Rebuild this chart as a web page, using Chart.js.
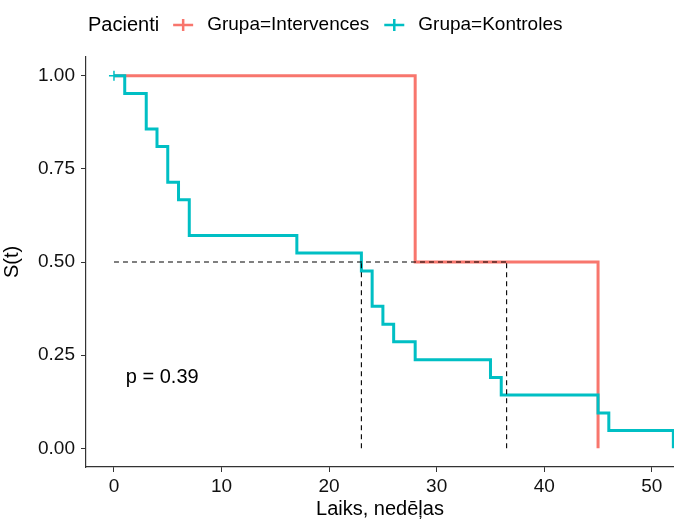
<!DOCTYPE html>
<html>
<head>
<meta charset="utf-8">
<script src="https://cdn.jsdelivr.net/npm/chart.js@4.4.1/dist/chart.umd.min.js"></script>
<style>
  html, body { margin: 0; padding: 0; background: #fff; }
  #wrap { width: 674px; height: 521px; position: relative; }
</style>
</head>
<body>
<div id="wrap"><canvas id="c" width="674" height="521"></canvas></div>
<script>
// ---- data ----
const legendTitle = "Pacienti";
const groupNames = ["Grupa=Intervences", "Grupa=Kontroles"];
const groupColors = ["#F8766D", "#00BFC4"];

const intervencesTime = [0, 28, 45];
const intervencesSurv = [1.0, 0.5, 0.0];

const kontrolesTime = [0, 1, 3, 4, 5, 6, 7, 17, 23, 24, 25, 26, 28, 35, 36, 45, 46, 52];
const kontrolesSurv = [1.0, 0.952, 0.857, 0.810, 0.714, 0.667, 0.571, 0.524, 0.476, 0.381, 0.333, 0.286, 0.238, 0.190, 0.143, 0.095, 0.048, 0.0];

const censorTime = [0];
const censorSurv = [1.0];

const medianSurv = 0.5;
const medianTimes = [23, 36.5];

const xTicks = [0, 10, 20, 30, 40, 50];
const yTicks = [0.00, 0.25, 0.50, 0.75, 1.00];

const pValueText = "p = 0.39";
const xTitle = "Laiks, nedēļas";
const yTitle = "S(t)";

// ---- build datasets ----
const toPts = (t, s) => t.map((v, i) => ({ x: v, y: s[i] }));
const maxMedian = Math.max(...medianTimes);

const datasets = [
  {
    label: "medianH",
    data: [{ x: 0, y: medianSurv }, { x: maxMedian, y: medianSurv }],
    borderColor: "#000", borderWidth: 1.1, borderDash: [5, 4],
    pointRadius: 0, fill: false, order: 0
  },
  ...medianTimes.map(m => ({
    label: "medianV",
    data: [{ x: m, y: 0 }, { x: m, y: medianSurv }],
    borderColor: "#000", borderWidth: 1.1, borderDash: [5, 4],
    pointRadius: 0, fill: false, order: 0
  })),
  {
    label: "censor",
    data: toPts(censorTime, censorSurv),
    showLine: false, pointStyle: "cross", pointRadius: 5,
    pointBorderColor: groupColors[1], pointBorderWidth: 1.5, order: 1
  },
  {
    label: groupNames[1],
    data: toPts(kontrolesTime, kontrolesSurv),
    borderColor: groupColors[1], borderWidth: 3, stepped: "before",
    pointRadius: 0, fill: false, order: 2
  },
  {
    label: groupNames[0],
    data: toPts(intervencesTime, intervencesSurv),
    borderColor: groupColors[0], borderWidth: 3, stepped: "before",
    pointRadius: 0, fill: false, order: 3
  }
];

const FONT = "'Liberation Sans', Arial, sans-serif";

const legendPlugin = {
  id: "ggLegend",
  afterDraw(chart) {
    const ctx = chart.ctx;
    ctx.save();
    ctx.textBaseline = "middle";
    ctx.fillStyle = "#000";
    const y = 25;
    ctx.font = "20px " + FONT;
    ctx.fillText(legendTitle, 88, y);
    let x = 88 + ctx.measureText(legendTitle).width + 14;
    ctx.font = "19px " + FONT;
    groupNames.forEach((name, i) => {
      ctx.strokeStyle = groupColors[i];
      ctx.lineWidth = 2.5;
      ctx.beginPath();
      ctx.moveTo(x, y); ctx.lineTo(x + 20, y);
      ctx.moveTo(x + 10, y - 6); ctx.lineTo(x + 10, y + 6);
      ctx.stroke();
      x += 34;
      ctx.fillStyle = "#000";
      ctx.fillText(name, x, y);
      x += ctx.measureText(name).width + 15;
    });
    ctx.restore();
  }
};

const pValuePlugin = {
  id: "pval",
  afterDatasetsDraw(chart) {
    const ctx = chart.ctx;
    const xs = chart.scales.x, ys = chart.scales.y;
    ctx.save();
    ctx.font = "20px " + FONT;
    ctx.fillStyle = "#000";
    ctx.textBaseline = "middle";
    ctx.textAlign = "left";
    ctx.fillText(pValueText, xs.getPixelForValue(1.1), ys.getPixelForValue(0.19));
    ctx.restore();
  }
};

new Chart(document.getElementById("c"), {
  type: "line",
  data: { datasets },
  plugins: [legendPlugin, pValuePlugin],
  options: {
    responsive: false,
    animation: false,
    layout: { autoPadding: false, padding: { top: 57, right: 0, left: 0, bottom: 0 } },
    plugins: { legend: { display: false }, tooltip: { enabled: false } },
    scales: {
      x: {
        type: "linear", min: -2.6, max: 52.06,
        afterBuildTicks: s => { s.ticks = xTicks.map(v => ({ value: v })); },
        afterFit: s => { s.height = 54; s.paddingLeft = 0; s.paddingRight = 0; },
        ticks: { font: { size: 19, family: FONT }, color: "#111", padding: 3, maxRotation: 0 },
        grid: { drawOnChartArea: false, drawTicks: true, tickLength: 5, color: "#333" },
        border: { display: true, color: "#333", width: 1.2 },
        title: { display: true, text: xTitle, font: { size: 20, family: FONT }, color: "#000", padding: { top: 0, bottom: 0 } }
      },
      y: {
        type: "linear", min: -0.05, max: 1.05,
        afterBuildTicks: s => { s.ticks = yTicks.map(v => ({ value: v })); },
        afterFit: s => { s.width = 86; s.paddingTop = 0; s.paddingBottom = 0; },
        ticks: { font: { size: 19, family: FONT }, color: "#111", padding: 6,
                 callback: v => Number(v).toFixed(2) },
        grid: { drawOnChartArea: false, drawTicks: true, tickLength: 5, color: "#333" },
        border: { display: true, color: "#333", width: 1.2 },
        title: { display: true, text: yTitle, font: { size: 20, family: FONT }, color: "#000", padding: { top: 0, bottom: 2 } }
      }
    }
  }
});
</script>
</body>
</html>
